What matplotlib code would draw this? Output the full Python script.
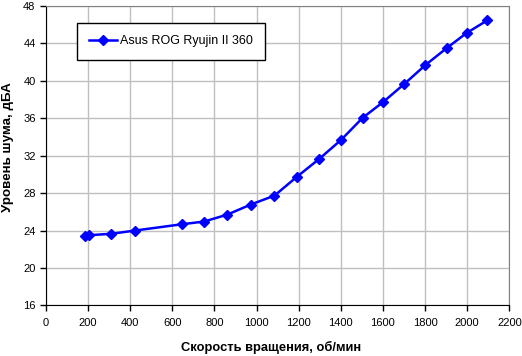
import matplotlib
matplotlib.use("Agg")
import matplotlib.pyplot as plt

rpm = [185, 202, 309, 423, 645, 751, 861, 972, 1085, 1191, 1297, 1401, 1503, 1601, 1701, 1802, 1903, 1997, 2095]
noise = [23.4, 23.5, 23.65, 24.0, 24.67, 24.96, 25.7, 26.77, 27.73, 29.73, 31.64, 33.67, 36.02, 37.72, 39.64, 41.67, 43.48, 45.08, 46.43]
series_name = "Asus ROG Ryujin II 360"
xticks = list(range(0, 2201, 200))
yticks = list(range(16, 49, 4))

plt.rcParams['font.family'] = ['Liberation Sans', 'DejaVu Sans']

fig = plt.figure(figsize=(5.22, 3.56), dpi=100)
ax = fig.add_axes([0.0881, 0.1419, 0.9757 - 0.0881, 0.984 - 0.1419])
ax.plot(rpm, noise, color='#0000ff', lw=1.8, marker='D', markersize=5.5,
        markeredgecolor='#0000ff', markerfacecolor='#0000ff', label=series_name)
ax.set_xlim(0, 2200)
ax.set_ylim(16, 48)
ax.set_xticks(xticks)
ax.set_yticks(yticks)
ax.grid(True, color='#c0c0c0', lw=1)
ax.set_axisbelow(True)
for s in ['top', 'right']:
    ax.spines[s].set_color('#808080')
for s in ['left', 'bottom']:
    ax.spines[s].set_color('black')
ax.tick_params(axis='both', labelsize=8, direction='out', length=4, width=1, colors='black')
ax.tick_params(axis='x', pad=5)
ax.set_xlabel("Скорость вращения, об/мин", fontsize=9.3, fontweight='bold')
ax.xaxis.set_label_coords(0.486, -0.118)
ax.set_ylabel("Уровень шума, дБА", fontsize=9.6, fontweight='bold')
ax.yaxis.set_label_coords(-0.068, 0.529)
leg = ax.legend(loc='upper left', bbox_to_anchor=(0.066, 0.943), fontsize=9, frameon=True,
                fancybox=False, edgecolor='black', framealpha=1, borderpad=1.0,
                borderaxespad=0, handlelength=2.24, handletextpad=0.24)
leg.get_frame().set_linewidth(1)
fig.savefig("out.png", dpi=100)
